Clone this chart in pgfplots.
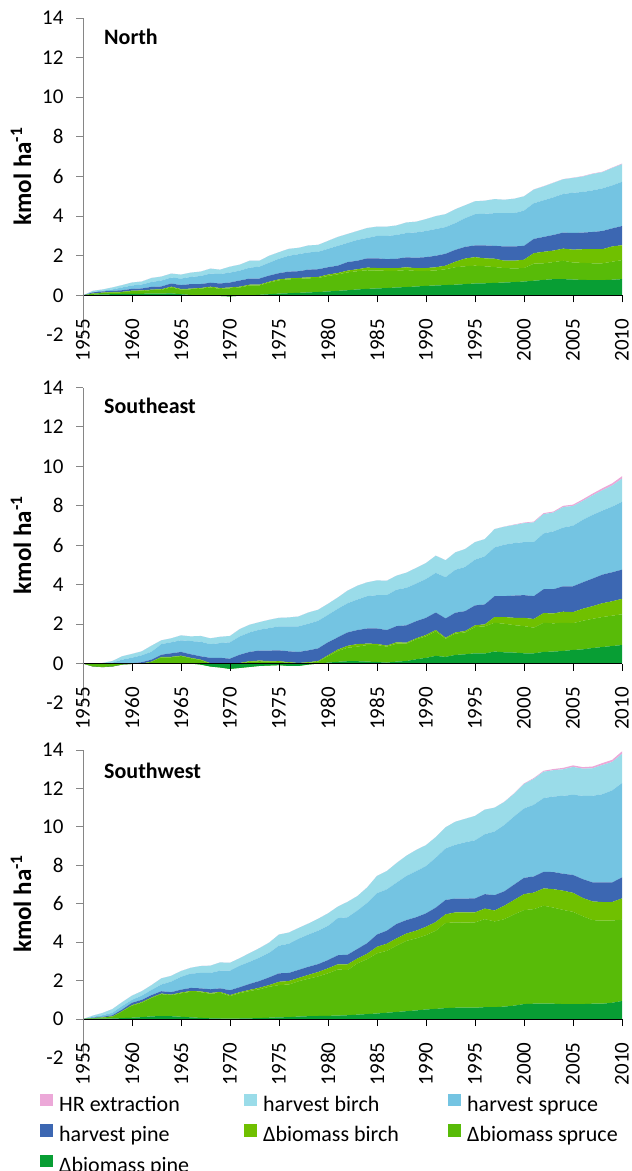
\documentclass[border=0pt]{standalone}
\usepackage{pgfplots}
\pgfplotsset{compat=1.18}
\usepackage{pgfplotstable}
\usepackage{fontspec}
\setmainfont{Carlito}

\definecolor{cPine}{HTML}{089E34}
\definecolor{cSpruce}{HTML}{58BB08}
\definecolor{cBirch}{HTML}{70C000}
\definecolor{hPine}{HTML}{3C67B2}
\definecolor{hSpruce}{HTML}{74C4E2}
\definecolor{hBirch}{HTML}{9ADCE9}
\definecolor{hrCol}{HTML}{ECA8D8}
\definecolor{axGray}{HTML}{868686}

% columns: year, delta biomass pine/spruce/birch, harvest pine/spruce/birch, HR extraction
\pgfplotstableread{
year P S Bi HP HS HB HR
1955 0 0 0 0 0 0 0
1956 0.03 0.06 0.01 0.05 0.02 0.06 0
1957 0.05 0.07 0.02 0.06 0.04 0.06 0
1958 0.06 0.09 0.02 0.06 0.07 0.10 0
1959 0.07 0.09 0.02 0.08 0.14 0.12 0
1960 0.08 0.14 0.02 0.09 0.17 0.15 0
1961 0.08 0.14 0.03 0.10 0.20 0.15 0
1962 0.09 0.18 0.02 0.14 0.25 0.20 0
1963 0.09 0.19 0.03 0.14 0.30 0.20 0
1964 0.10 0.30 0.04 0.16 0.30 0.20 0
1965 0.06 0.23 0.03 0.20 0.33 0.20 0
1966 0.02 0.29 0.03 0.23 0.36 0.22 0
1967 0.00 0.34 0.03 0.20 0.41 0.22 0
1968 0.00 0.40 0.04 0.20 0.46 0.25 0
1969 -0.03 0.36 0.04 0.23 0.48 0.22 0
1970 -0.05 0.41 0.04 0.25 0.50 0.30 0
1971 -0.02 0.42 0.04 0.31 0.50 0.30 0
1972 0.00 0.50 0.04 0.31 0.55 0.35 0
1973 0.03 0.47 0.04 0.31 0.60 0.30 0
1974 0.06 0.59 0.04 0.31 0.65 0.35 0
1975 0.09 0.67 0.05 0.31 0.73 0.33 0
1976 0.11 0.70 0.05 0.34 0.80 0.35 0
1977 0.13 0.70 0.05 0.34 0.86 0.32 0
1978 0.15 0.71 0.05 0.39 0.87 0.35 0
1979 0.17 0.71 0.05 0.39 0.88 0.35 0
1980 0.20 0.78 0.07 0.37 0.93 0.40 0
1981 0.23 0.83 0.07 0.37 1.00 0.45 0
1982 0.26 0.90 0.09 0.43 0.97 0.45 0
1983 0.30 0.92 0.10 0.43 1.05 0.45 0
1984 0.33 0.94 0.13 0.47 1.03 0.50 0
1985 0.35 0.90 0.13 0.49 1.13 0.47 0
1986 0.37 0.87 0.13 0.46 1.17 0.47 0
1987 0.40 0.84 0.13 0.48 1.20 0.48 0
1988 0.42 0.86 0.14 0.50 1.23 0.53 0
1989 0.45 0.78 0.14 0.53 1.28 0.54 0
1990 0.48 0.75 0.15 0.55 1.32 0.60 0
1991 0.50 0.76 0.16 0.58 1.35 0.65 0
1992 0.52 0.80 0.18 0.60 1.35 0.65 0
1993 0.54 0.88 0.28 0.60 1.35 0.70 0
1994 0.57 0.90 0.39 0.59 1.45 0.65 0
1995 0.60 0.90 0.43 0.59 1.58 0.65 0
1996 0.61 0.86 0.40 0.65 1.60 0.66 0
1997 0.63 0.80 0.42 0.65 1.65 0.71 0
1998 0.65 0.73 0.37 0.72 1.68 0.68 0
1999 0.67 0.69 0.39 0.72 1.68 0.73 0
2000 0.70 0.68 0.42 0.70 1.78 0.72 0
2001 0.74 0.86 0.53 0.72 1.80 0.69 0.01
2002 0.78 0.84 0.58 0.75 1.85 0.70 0.01
2003 0.82 0.86 0.58 0.79 1.90 0.73 0.01
2004 0.82 0.93 0.61 0.81 1.95 0.74 0.01
2005 0.80 0.86 0.65 0.84 2.03 0.75 0.01
2006 0.78 0.86 0.69 0.84 2.05 0.78 0.02
2007 0.77 0.85 0.71 0.87 2.10 0.83 0.02
2008 0.77 0.85 0.71 0.92 2.15 0.82 0.02
2009 0.79 0.91 0.77 0.91 2.17 0.88 0.02
2010 0.82 0.96 0.75 0.97 2.23 0.89 0.03
}\north

\pgfplotstableread{
year P S Bi HP HS HB HR
1955 0 0 0 0 0 0 0
1956 -0.03 -0.11 -0.01 0.03 0.07 0.05 0
1957 -0.03 -0.14 -0.01 0.03 0.15 0.03 0
1958 -0.02 -0.12 -0.01 0.03 0.17 0.08 0
1959 -0.02 -0.03 0.00 0.03 0.22 0.17 0
1960 -0.01 -0.01 0.00 0.04 0.28 0.19 0
1961 0 0 0 0.07 0.35 0.20 0
1962 0 0.09 0.01 0.10 0.40 0.31 0
1963 0.01 0.31 0.02 0.11 0.54 0.19 0
1964 0.01 0.31 0.02 0.18 0.56 0.20 0
1965 0.01 0.37 0.02 0.19 0.59 0.25 0
1966 0 0.27 0.02 0.18 0.67 0.24 0
1967 -0.05 0.23 0.02 0.17 0.74 0.29 0
1968 -0.15 0.15 0.02 0.27 0.69 0.30 0
1969 -0.20 0.18 0.02 0.29 0.75 0.32 0
1970 -0.27 0.22 0.02 0.28 0.83 0.32 0
1971 -0.22 0.22 0.03 0.42 0.93 0.37 0
1972 -0.17 0.26 0.03 0.47 0.99 0.39 0
1973 -0.12 0.24 0.03 0.51 1.06 0.38 0
1974 -0.10 0.20 0.03 0.53 1.14 0.42 0
1975 -0.08 0.17 0.03 0.55 1.22 0.43 0
1976 -0.12 0.16 0.03 0.55 1.27 0.45 0
1977 -0.12 0.12 0.03 0.56 1.30 0.50 0
1978 -0.05 0.09 0.03 0.60 1.35 0.57 0
1979 0 0.10 0.03 0.64 1.40 0.56 0
1980 0.05 0.32 0.05 0.66 1.39 0.56 0
1981 0.09 0.55 0.07 0.62 1.45 0.57 0
1982 0.12 0.68 0.10 0.68 1.48 0.64 0
1983 0.12 0.74 0.13 0.71 1.55 0.70 0
1984 0.10 0.84 0.07 0.77 1.64 0.70 0
1985 0.08 0.86 0.06 0.78 1.69 0.75 0
1986 0.05 0.81 0.05 0.79 1.77 0.73 0
1987 0.10 0.91 0.07 0.82 1.85 0.71 0
1988 0.13 0.88 0.05 0.88 1.90 0.77 0
1989 0.22 1.01 0.05 0.87 1.91 0.79 0
1990 0.29 1.09 0.07 0.87 1.97 0.81 0
1991 0.39 1.24 0.07 0.89 2.01 0.87 0
1992 0.34 0.92 0.05 0.98 2.09 0.86 0
1993 0.44 1.08 0.06 1.00 2.18 0.88 0
1994 0.47 1.11 0.07 1.01 2.24 0.91 0
1995 0.52 1.33 0.09 1.01 2.32 0.89 0
1996 0.51 1.38 0.10 1.01 2.44 0.87 0
1997 0.61 1.46 0.29 1.06 2.47 0.93 0
1998 0.57 1.45 0.34 1.06 2.61 0.91 0.01
1999 0.56 1.39 0.37 1.13 2.66 0.92 0.02
2000 0.52 1.38 0.42 1.15 2.69 0.96 0.03
2001 0.52 1.30 0.44 1.16 2.74 1.00 0.04
2002 0.59 1.48 0.49 1.21 2.83 0.98 0.05
2003 0.61 1.43 0.50 1.23 2.93 0.96 0.05
2004 0.64 1.43 0.56 1.29 2.98 1.04 0.06
2005 0.69 1.36 0.56 1.31 3.07 1.00 0.07
2006 0.72 1.45 0.61 1.34 3.17 0.96 0.08
2007 0.79 1.48 0.64 1.40 3.23 0.99 0.09
2008 0.84 1.52 0.70 1.45 3.25 1.03 0.10
2009 0.89 1.54 0.73 1.47 3.33 1.07 0.11
2010 0.94 1.56 0.78 1.48 3.44 1.18 0.12
}\southeast

\pgfplotstableread{
year P S Bi HP HS HB HR
1955 0 0 0 0 0 0 0
1956 0.02 0.02 0.01 0.02 0.05 0.06 0
1957 0.03 0.05 0.01 0.03 0.08 0.12 0
1958 0.03 0.09 0.02 0.06 0.13 0.19 0
1959 0.05 0.35 0.02 0.08 0.18 0.20 0
1960 0.07 0.63 0.03 0.12 0.15 0.22 0
1961 0.10 0.75 0.03 0.12 0.22 0.23 0
1962 0.14 0.96 0.03 0.12 0.27 0.25 0
1963 0.16 1.14 0.03 0.12 0.35 0.32 0
1964 0.15 1.09 0.03 0.13 0.55 0.30 0
1965 0.12 1.22 0.04 0.15 0.67 0.30 0
1966 0.09 1.33 0.04 0.16 0.75 0.30 0
1967 0.06 1.34 0.04 0.16 0.80 0.36 0
1968 0.04 1.28 0.04 0.19 0.85 0.38 0
1969 0.03 1.34 0.04 0.19 0.92 0.43 0
1970 0.03 1.17 0.05 0.25 1.02 0.41 0
1971 0.03 1.32 0.05 0.26 1.12 0.39 0
1972 0.04 1.42 0.06 0.31 1.15 0.45 0
1973 0.05 1.50 0.08 0.35 1.22 0.49 0
1974 0.07 1.61 0.09 0.40 1.28 0.53 0
1975 0.09 1.68 0.17 0.44 1.44 0.58 0
1976 0.10 1.70 0.18 0.42 1.52 0.58 0
1977 0.13 1.84 0.17 0.42 1.62 0.56 0
1978 0.15 1.95 0.20 0.42 1.68 0.57 0
1979 0.16 2.06 0.23 0.41 1.74 0.62 0
1980 0.17 2.21 0.26 0.43 1.78 0.65 0
1981 0.18 2.40 0.27 0.47 1.93 0.60 0
1982 0.20 2.35 0.30 0.50 1.95 0.80 0
1983 0.23 2.67 0.25 0.50 2.00 0.75 0
1984 0.26 2.86 0.28 0.55 2.10 0.80 0
1985 0.29 3.13 0.34 0.64 2.15 0.90 0
1986 0.33 3.22 0.37 0.68 2.15 0.95 0
1987 0.37 3.45 0.38 0.75 2.15 1.02 0
1988 0.41 3.66 0.38 0.70 2.30 1.05 0
1989 0.45 3.75 0.40 0.70 2.40 1.10 0
1990 0.50 3.87 0.43 0.70 2.46 1.09 0
1991 0.53 4.07 0.45 0.75 2.60 1.07 0
1992 0.57 4.43 0.45 0.75 2.68 1.10 0
1993 0.59 4.44 0.52 0.72 2.80 1.20 0
1994 0.59 4.43 0.53 0.72 2.93 1.22 0
1995 0.59 4.44 0.52 0.73 3.02 1.27 0
1996 0.62 4.58 0.55 0.75 3.12 1.28 0
1997 0.62 4.46 0.57 0.80 3.31 1.24 0
1998 0.65 4.55 0.70 0.75 3.45 1.20 0.01
1999 0.70 4.75 0.75 0.80 3.55 1.18 0.02
2000 0.78 4.89 0.83 0.85 3.61 1.27 0.03
2001 0.80 4.92 0.86 0.84 3.73 1.35 0.04
2002 0.80 5.10 0.90 0.86 3.84 1.37 0.05
2003 0.80 5.00 0.96 0.89 3.93 1.37 0.06
2004 0.78 4.90 1.00 0.88 4.06 1.38 0.07
2005 0.78 4.80 0.99 0.93 4.17 1.45 0.08
2006 0.78 4.57 0.95 0.98 4.34 1.41 0.08
2007 0.80 4.35 0.97 0.99 4.51 1.43 0.09
2008 0.80 4.32 0.97 1.02 4.59 1.52 0.10
2009 0.85 4.28 0.96 1.02 4.79 1.48 0.11
2010 0.94 4.23 1.11 1.09 4.91 1.52 0.13
}\southwest

\pgfplotsset{
  panel/.style={
    scale only axis, width=539pt,
    xmin=1955, xmax=2010, ymin=-2, ymax=14,
    axis y line*=left, axis x line*=middle,
    hide obscured x ticks=false, hide obscured y ticks=false,
    axis on top, stack plots=y,
    xtick={1955,1960,...,2010}, ytick={-2,0,...,14},
    tick align=outside, major tick length=7pt,
    x axis line style={black, line width=0.9pt},
    y axis line style={axGray, line width=0.9pt},
    xtick style={black, line width=0.9pt},
    ytick style={axGray, line width=0.9pt},
    tick label style={font=\fontsize{21}{21}\selectfont, text=black},
    xticklabel style={rotate=90, anchor=east},
    xticklabel shift=13pt, yticklabel shift=9pt,
    /pgf/number format/assume math mode=true,
    /pgf/number format/1000 sep={},
    ylabel={kmol ha\textsuperscript{-1}},
    every axis y label/.style={at={(axis description cs:-0.115,0.5)}, rotate=90, anchor=center,
      font=\bfseries\fontsize{25}{25}\selectfont},
    legend image code/.code={\fill[##1] (0pt,0pt) rectangle (13pt,12.5pt); \path (19pt,0pt);},
  },
  lay/.style={draw=none, fill=#1},
}
\newcommand{\lentry}[1]{\addlegendentry{\makebox[185pt][l]{#1}}}
\newcommand{\paneltitle}[2]{\node[anchor=west, inner sep=0pt, font=\bfseries\fontsize{22}{22}\selectfont] at (rel axis cs:0.039,#2) {#1};}

\begin{document}
\begin{tikzpicture}
\useasboundingbox (0,0) rectangle (632pt,-1171pt);

% North
\begin{axis}[panel, height=317pt, at={(83pt,-18pt)}, anchor=north west]
  \addplot[lay=cPine]   table[x=year,y=P]  {\north} \closedcycle;
  \addplot[lay=cSpruce] table[x=year,y=S]  {\north} \closedcycle;
  \addplot[lay=cBirch]  table[x=year,y=Bi] {\north} \closedcycle;
  \addplot[lay=hPine]   table[x=year,y=HP] {\north} \closedcycle;
  \addplot[lay=hSpruce] table[x=year,y=HS] {\north} \closedcycle;
  \addplot[lay=hBirch]  table[x=year,y=HB] {\north} \closedcycle;
  \addplot[lay=hrCol]   table[x=year,y=HR] {\north} \closedcycle;
  \paneltitle{North}{0.94}
\end{axis}

% Southeast
\begin{axis}[panel, height=315.5pt, at={(83pt,-387.5pt)}, anchor=north west]
  \addplot[lay=cPine]   table[x=year,y=P]  {\southeast} \closedcycle;
  \addplot[lay=cSpruce] table[x=year,y=S]  {\southeast} \closedcycle;
  \addplot[lay=cBirch]  table[x=year,y=Bi] {\southeast} \closedcycle;
  \addplot[lay=hPine]   table[x=year,y=HP] {\southeast} \closedcycle;
  \addplot[lay=hSpruce] table[x=year,y=HS] {\southeast} \closedcycle;
  \addplot[lay=hBirch]  table[x=year,y=HB] {\southeast} \closedcycle;
  \addplot[lay=hrCol]   table[x=year,y=HR] {\southeast} \closedcycle;
  \paneltitle{Southeast}{0.941}
\end{axis}

% Southwest, with the shared legend
\begin{axis}[panel, height=307.5pt, at={(83pt,-750pt)}, anchor=north west,
  reverse legend, legend columns=3, legend cell align=left,
  legend style={at={(axis description cs:0,0)}, anchor=north west,
    xshift=-43pt, yshift=-36pt, draw=none, fill=none, inner sep=0pt,
    row sep=9pt, column sep=0pt,
    font=\fontsize{22}{22}\selectfont,
    nodes={inner sep=0pt, text height=14pt, text depth=4pt}}]
  \addplot[lay=cPine]   table[x=year,y=P]  {\southwest} \closedcycle; \lentry{Δbiomass pine}
  \addplot[lay=cSpruce] table[x=year,y=S]  {\southwest} \closedcycle; \lentry{Δbiomass spruce}
  \addplot[lay=cBirch]  table[x=year,y=Bi] {\southwest} \closedcycle; \lentry{Δbiomass birch}
  \addplot[lay=hPine]   table[x=year,y=HP] {\southwest} \closedcycle; \lentry{harvest pine}
  \addplot[lay=hSpruce] table[x=year,y=HS] {\southwest} \closedcycle; \lentry{harvest spruce}
  \addplot[lay=hBirch]  table[x=year,y=HB] {\southwest} \closedcycle; \lentry{harvest birch}
  \addplot[lay=hrCol]   table[x=year,y=HR] {\southwest} \closedcycle; \lentry{HR extraction}
  \paneltitle{Southwest}{0.933}
\end{axis}
\end{tikzpicture}
\end{document}
